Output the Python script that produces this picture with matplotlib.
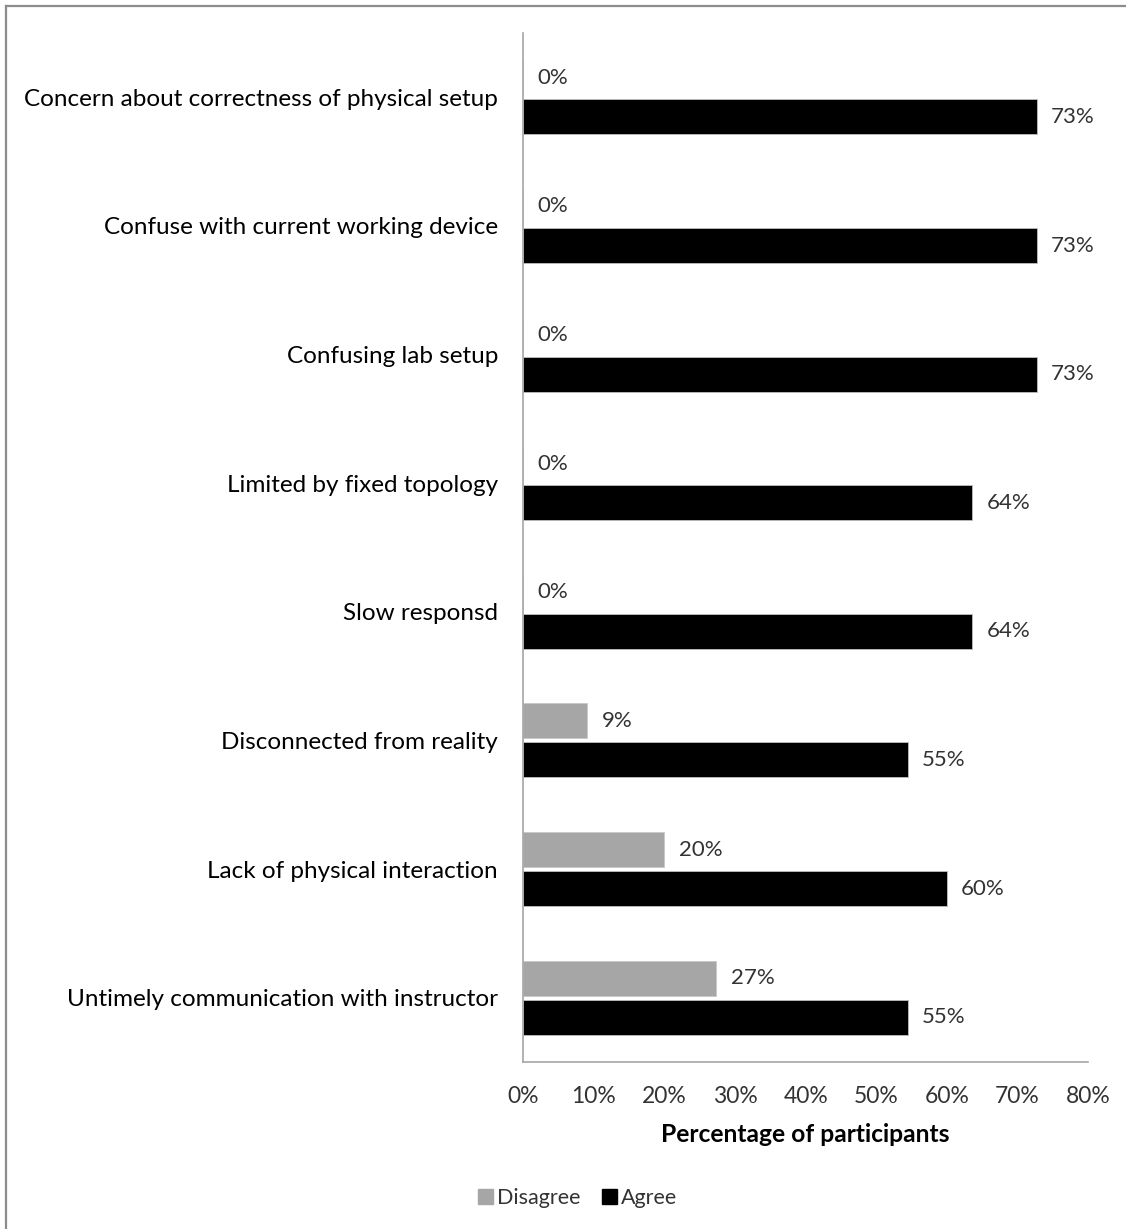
import numpy as np
import matplotlib.pyplot as plt
from matplotlib.lines import Line2D
from matplotlib.patches import Patch

plt.rcParams['font.family'] = ['Lato', 'DejaVu Sans']

categories = [
    "Concern about correctness of physical setup",
    "Confuse with current working device",
    "Confusing lab setup",
    "Limited by fixed topology",
    "Slow responsd",
    "Disconnected from reality",
    "Lack of physical interaction",
    "Untimely communication with instructor",
]
disagree = [0, 0, 0, 0, 0, 9.1, 20, 27.3]
agree = [72.7, 72.7, 72.7, 63.6, 63.6, 54.5, 60, 54.5]

gray = '#A6A6A6'
text_col = '#333333'


def pct(v):
    return f"{int(v + 0.5)}%"


fig = plt.figure(figsize=(11.26, 12.29), dpi=100)
ax = fig.add_axes([0.4645, 0.1359, 0.502, 0.8372])

y = np.arange(len(categories))
h = 0.272
off = 0.152
ax.barh(y - off, disagree, height=h, color=gray, edgecolor='#c8c8c8', linewidth=0.6)
ax.barh(y + off, agree, height=h, color='black', edgecolor='#bfbfbf', linewidth=0.6)

for yi, v in zip(y, disagree):
    ax.annotate(pct(v), (v, yi - off), xytext=(10.5, 0), textcoords='offset points',
                va='center', ha='left', fontsize=16, color=text_col)
for yi, v in zip(y, agree):
    ax.annotate(pct(v), (v, yi + off), xytext=(10, 0), textcoords='offset points',
                va='center', ha='left', fontsize=16, color=text_col)

ax.set_xlim(0, 80)
ax.set_ylim(len(categories) - 0.5, -0.5)
ax.set_xticks(np.arange(0, 81, 10))
ax.set_xticklabels([f"{t}%" for t in range(0, 81, 10)])
ax.set_yticks(y)
ax.set_yticklabels(categories)
ax.tick_params(axis='both', length=0, colors='black')
ax.tick_params(axis='x', pad=17, labelsize=16.5, labelcolor=text_col)
ax.tick_params(axis='y', pad=18, labelsize=17.5)
for s in ['top', 'right']:
    ax.spines[s].set_visible(False)
for s in ['left', 'bottom']:
    ax.spines[s].set_color(gray)
    ax.spines[s].set_linewidth(1.2)
ax.set_xlabel("Percentage of participants", fontsize=17.7, fontweight='bold', labelpad=12)

handles = [Patch(color=gray, label='Disagree'), Patch(color='black', label='Agree')]
fig.legend(handles=handles, loc='center', bbox_to_anchor=(0.513, 1 - 1198 / 1229), ncol=2,
           frameon=False, fontsize=15.5, handlelength=0.7, handleheight=0.7,
           handletextpad=0.2, columnspacing=1.0, labelcolor=text_col)

# outer frame (left and top only)
fig.add_artist(Line2D([6 / 1126, 6 / 1126], [0, 1 - 6 / 1229], transform=fig.transFigure,
                      color='#8c8c8c', linewidth=1.6))
fig.add_artist(Line2D([6 / 1126, 1], [1 - 6 / 1229, 1 - 6 / 1229], transform=fig.transFigure,
                      color='#8c8c8c', linewidth=1.6))

fig.savefig('out.png', dpi=100)
